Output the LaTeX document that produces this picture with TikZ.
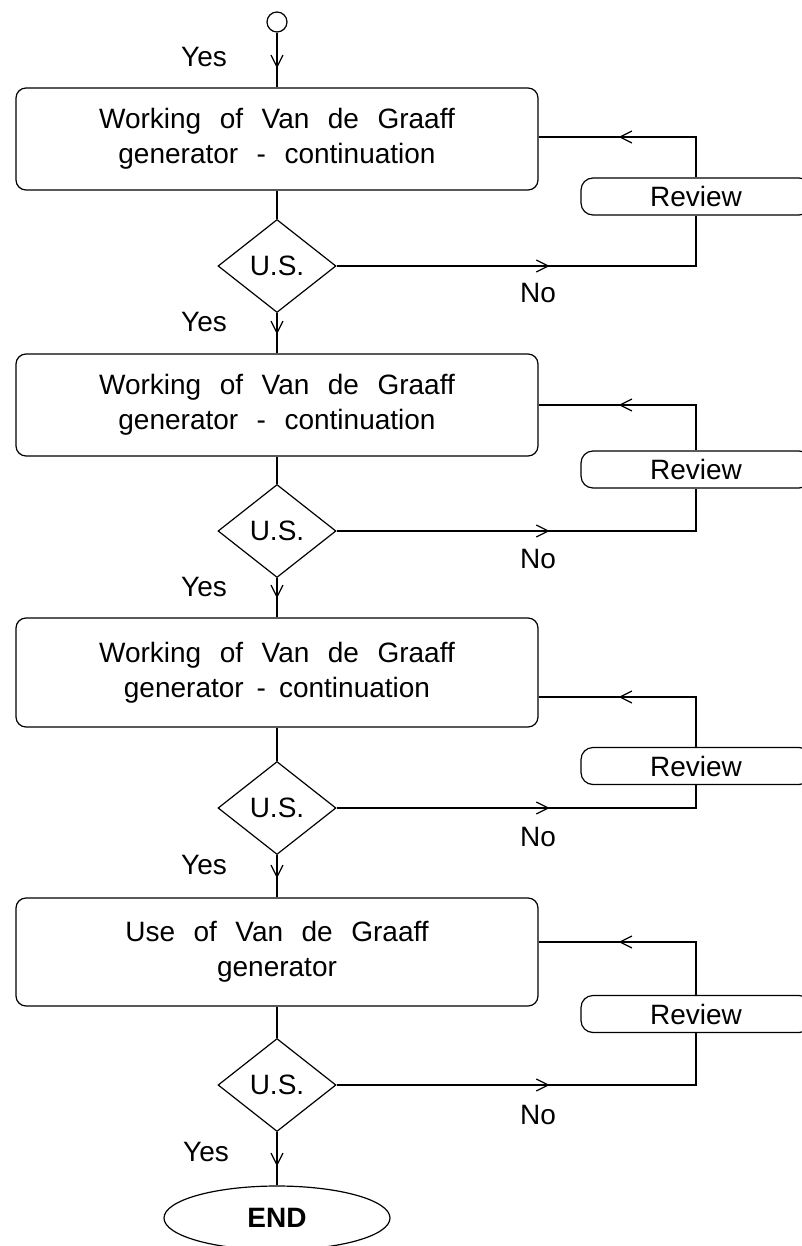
\documentclass[tikz,border=0pt]{standalone}
\usepackage{fontspec}
\setmainfont{Liberation Sans}
\usetikzlibrary{arrows.meta,shapes.geometric,decorations.markings}
\newcommand\widesp{\spaceskip=18.5pt\relax}
\newcommand\midsp{\spaceskip=13pt\relax}

\begin{document}
\begin{tikzpicture}[x=1pt,y=-1pt,line width=1.2pt,
  font=\fontsize{28}{35}\selectfont,
  task/.style={draw,rounded corners=10pt,minimum width=522pt,minimum height=102pt,
    align=center,execute at begin node=\widesp},
  test/.style={draw,diamond,minimum width=118pt,minimum height=93pt,inner sep=0pt},
  review/.style={draw,fill=white,rounded corners=12pt,minimum width=230pt,
    minimum height=37pt,inner sep=0pt},
  midtip/.style={postaction={decorate},decoration={markings,
    mark=at position #1 with {\arrow{Straight Barb[length=12pt,width=12pt]}}}}]
  \useasboundingbox (0,0) rectangle (801,1246);

  \node[draw,circle,minimum size=20pt,inner sep=0pt] (start) at (277,22) {};
  \node[task] (w1) at (277,139) {Working of Van de Graaff\\generator - continuation};
  \node[test] (t1) at (277,266) {U.S.};
  \node[task] (w2) at (277,405) {Working of Van de Graaff\\generator - continuation};
  \node[test] (t2) at (277,531) {U.S.};
  \node[task,minimum height=109pt] (w3) at (277,672.5)
    {Working of Van de Graaff\\\midsp generator - continuation};
  \node[test] (t3) at (277,808) {U.S.};
  \node[task,minimum height=108pt] (w4) at (277,952) {Use of Van de Graaff\\generator};
  \node[test] (t4) at (277,1085) {U.S.};
  \node[draw,ellipse,minimum width=226pt,minimum height=64pt,
    font=\fontsize{28}{35}\selectfont\bfseries] (end) at (277,1218) {END};

  \node[review] (rv1) at (696,196.5) {Review};
  \node[review] (rv2) at (696,469.5) {Review};
  \node[review] (rv3) at (696,766) {Review};
  \node[review] (rv4) at (696,1014) {Review};

  \node (yes0) at (204,57) {Yes};
  \node (yes1) at (204,322) {Yes};
  \node (yes2) at (204,587) {Yes};
  \node (yes3) at (204,865) {Yes};
  \node (yes4) at (206,1152) {Yes};
  \node (no1) at (538,293) {No};
  \node (no2) at (538,559) {No};
  \node (no3) at (538,837) {No};
  \node (no4) at (538,1115) {No};

  % main line
  \draw[midtip=-19pt] (start) -- (w1);
  \draw (w1) -- (t1);
  \draw[midtip=-19pt] (t1) -- (w2);
  \draw (w2) -- (t2);
  \draw[midtip=-19pt] (t2) -- (w3);
  \draw (w3) -- (t3);
  \draw[midtip=-19pt] (t3) -- (w4);
  \draw (w4) -- (t4);
  \draw[midtip=-19pt] (t4) -- (end);

  % review loops
  \draw[midtip=213pt] (t1.east) -| (rv1.south);
  \draw[midtip=-80pt] (rv1.north) |- ([yshift=2pt]w1.east);
  \draw[midtip=213pt] (t2.east) -| (rv2.south);
  \draw[midtip=-80pt] (rv2.north) |- (w2.east);
  \draw[midtip=213pt] (t3.east) -| (rv3.south);
  \draw[midtip=-80pt] (rv3.north) |- ([yshift=-24.5pt]w3.east);
  \draw[midtip=213pt] (t4.east) -| (rv4.south);
  \draw[midtip=-80pt] (rv4.north) |- ([yshift=10pt]w4.east);
\end{tikzpicture}
\end{document}
